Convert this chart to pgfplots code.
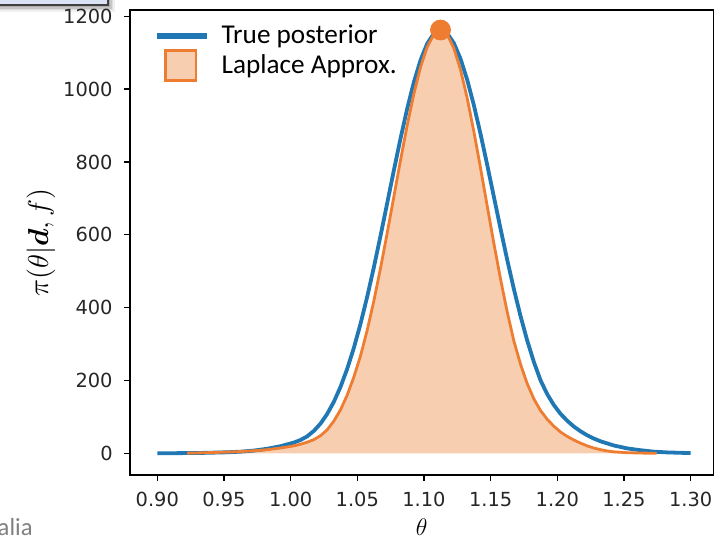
\documentclass[border=0pt]{standalone}
\usepackage{pgfplots}
\pgfplotsset{compat=1.18}
\usepackage{pgfplotstable}
\usepackage{fontspec}
\usepackage{bm}
\newfontfamily\dejavu{DejaVu Sans}
\newfontfamily\carlito{Carlito}

\definecolor{tblue}{HTML}{1F77B4}
\definecolor{torange}{HTML}{EE7D31}
\definecolor{tfill}{HTML}{F8CEB1}
\definecolor{boxblue}{HTML}{DAE3F3}

% True posterior density
\pgfplotstableread{
x y
0.9000 0.5
0.9324 1.5
0.9524 3.3
0.9624 5
0.9724 8
0.9824 13
0.9924 20
1.0024 30
1.0074 37
1.0124 47
1.0174 62
1.0224 82
1.0274 108.5
1.0324 141.8
1.0374 182.9
1.0424 232.1
1.0474 289.8
1.0524 355.8
1.0574 430.0
1.0624 510.9
1.0674 597.2
1.0724 686.7
1.0774 776.8
1.0824 864.3
1.0874 946.1
1.0924 1018.8
1.0974 1079.1
1.1024 1124.5
1.1074 1152.5
1.1124 1162
1.1174 1153
1.1224 1126.2
1.1274 1083.1
1.1324 1025.5
1.1374 955.9
1.1424 877.1
1.1474 792.4
1.1524 704.8
1.1574 617.1
1.1624 531.9
1.1674 451.5
1.1724 377.3
1.1774 310.4
1.1824 251.4
1.1874 201
1.1924 163
1.1974 133
1.2024 109
1.2074 90
1.2124 74
1.2174 61
1.2224 50
1.2274 41
1.2324 33.5
1.2424 22
1.2524 14
1.2624 9
1.2724 5
1.2824 3
1.2924 1.9
1.3000 1.2
}\truepost

% Laplace approximation
\pgfplotstableread{
x y
0.9223 0.9
0.9324 1.8
0.9474 3.3
0.9624 5.3
0.9724 7.5
0.9824 10.5
0.9924 15
1.0024 21
1.0074 25.5
1.0124 31
1.0174 38
1.0224 49
1.0274 65
1.0324 89
1.0374 120
1.0424 160
1.0474 210
1.0524 268
1.0574 338.0
1.0624 418.8
1.0674 508.5
1.0724 604.7
1.0774 704.8
1.0824 804.8
1.0874 900.3
1.0924 986.9
1.0974 1060.1
1.1024 1115.5
1.1074 1150.2
1.1124 1162
1.1174 1149.4
1.1224 1112.3
1.1274 1053.0
1.1324 975.4
1.1374 883.9
1.1424 783.6
1.1474 679.8
1.1524 576.9
1.1574 479.0
1.1624 389.0
1.1674 309
1.1724 245
1.1774 192
1.1824 150
1.1874 118
1.1924 94
1.1974 75
1.2024 59
1.2074 47
1.2124 37
1.2174 28.5
1.2224 21
1.2274 15
1.2324 10.5
1.2374 7
1.2424 4.5
1.2524 2.2
1.2624 1.2
1.2745 0.6
}\laplace

\begin{document}
\begin{tikzpicture}
\useasboundingbox (0,0) rectangle (359pt,268pt);

% slide text box peeking in at the top left, with a soft shadow
\foreach \i/\o in {4/0.06,3/0.08,2/0.10,1/0.12}{
  \fill[black,opacity=\o] (-10pt,{265.5pt-\i*0.9pt}) rectangle ({54pt+\i*0.9pt},280pt);
}
\filldraw[fill=boxblue,draw=black!75,line width=0.6pt] (-10pt,265.5pt) rectangle (54pt,280pt);

% slide footer text
\node[anchor=base east,inner sep=0pt,text=black!50,font=\carlito\fontsize{12.3}{14}\selectfont] at (16.5pt,0.3pt) {alia};

\begin{axis}[
  at={(65pt,30.5pt)}, anchor=south west,
  scale only axis, width=291.65pt, height=232.5pt,
  xmin=0.8795, xmax=1.317, ymin=-59, ymax=1217,
  xtick={0.90,0.95,1.00,1.05,1.10,1.15,1.20,1.25,1.30},
  xticklabels={0.90,0.95,1.00,1.05,1.10,1.15,1.20,1.25,1.30},
  ytick={0,200,400,600,800,1000,1200},
  yticklabels={0,200,400,600,800,1000,1200},
  tick align=outside, tick pos=left, major tick length=3pt,
  tick style={black,line width=0.6pt},
  axis line style={black,line width=0.6pt},
  ticklabel style={font=\dejavu\fontsize{9.7}{11}\selectfont,text=black!85},
  xticklabel style={anchor=north,inner sep=0pt,yshift=-5.35pt},
  yticklabel style={anchor=east,inner sep=0pt,xshift=-5.5pt},
  xlabel={$\theta$},
  ylabel={$\pi(\theta|\bm{d},f)$},
  every axis x label/.style={at={(axis description cs:0.5,0)},anchor=center,yshift=-26pt,font=\fontsize{12}{14}\selectfont},
  every axis y label/.style={at={([xshift=-44.5pt]axis description cs:0,0.5)},anchor=center,rotate=90,font=\fontsize{13.5}{16}\selectfont},
  legend style={at={(axis description cs:0.0411,0.9677)},anchor=north west,
    draw=none,fill=none,inner sep=0pt,outer sep=0pt,
    column sep=5.85pt,row sep=1.2pt,
    font=\carlito\fontsize{13.6}{16}\selectfont,
    nodes={inner sep=0pt}},
  legend cell align=left,
]
% shaded Laplace approximation
\addplot[draw=none,fill=tfill,forget plot] table[x=x,y=y]{\laplace} \closedcycle;
% curves
\addplot[tblue,line width=1.9pt,line join=round,forget plot] table[x=x,y=y]{\truepost};
\addplot[torange,line width=1.4pt,line join=round,forget plot] table[x=x,y=y]{\laplace};
% mode
\addplot[only marks,mark=*,mark size=5pt,mark options={draw=torange,fill=torange},forget plot] coordinates {(1.1124,1162)};

\addlegendimage{legend image code/.code={\draw[line width=3pt,tblue] (0pt,0pt) -- (25pt,0pt);}}
\addlegendentry{True posterior}
\addlegendimage{legend image code/.code={\draw[line width=1.2pt,torange,fill=tfill] (4.35pt,-7.5pt) rectangle (19.65pt,7.5pt);}}
\addlegendentry{Laplace Approx.}
\end{axis}
\end{tikzpicture}
\end{document}
